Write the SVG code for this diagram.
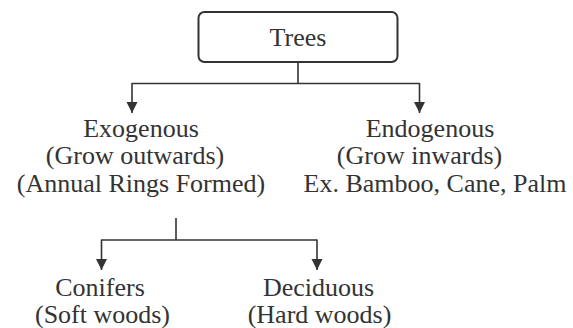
<svg xmlns="http://www.w3.org/2000/svg" width="573" height="328" viewBox="0 0 573 328">
<style>
.t{fill:#333;text-anchor:middle}
.box{fill:#fff;stroke:#333;stroke-width:2}
.c{fill:none;stroke:#333;stroke-width:1.6}
</style>
<defs>
<marker id="ad" markerUnits="userSpaceOnUse" markerWidth="12" markerHeight="12" viewBox="0 0 12 12" refX="6" refY="11">
<path d="M0.5,0 L11.5,0 L6,11 Z" fill="#333"/>
</marker>
</defs>
<rect width="573" height="328" fill="#fff"/>
<g id="connectors">
<path class="c" d="M298,62 V83.5 M132,83.5 H419.5"/>
<path class="c" d="M132,83 V113" marker-end="url(#ad)"/>
<path class="c" d="M419.5,83 V113" marker-end="url(#ad)"/>
<path class="c" d="M176,218 V240 M101.5,240 H317"/>
<path class="c" d="M101.5,239.5 V270" marker-end="url(#ad)"/>
<path class="c" d="M317,239.5 V270" marker-end="url(#ad)"/>
</g>
<g font-family="Liberation Serif, Times New Roman, DejaVu Serif, serif" font-size="26">
<g id="trees">
<rect class="box" x="198.5" y="12" width="199" height="50" rx="6"/>
<text class="t" x="298" y="46">Trees</text>
</g>
<g id="exogenous">
<text class="t" x="141" y="137">Exogenous</text>
<text class="t" x="135" y="164">(Grow outwards)</text>
<text class="t" x="141" y="192">(Annual Rings Formed)</text>
</g>
<g id="endogenous">
<text class="t" x="430" y="137">Endogenous</text>
<text class="t" x="419.5" y="164">(Grow inwards)</text>
<text class="t" x="435" y="192">Ex. Bamboo, Cane, Palm</text>
</g>
<g id="conifers">
<text class="t" x="100" y="296">Conifers</text>
<text class="t" x="102.5" y="323">(Soft woods)</text>
</g>
<g id="deciduous">
<text class="t" x="318.5" y="296">Deciduous</text>
<text class="t" x="319.5" y="323">(Hard woods)</text>
</g>
</g>
</svg>
